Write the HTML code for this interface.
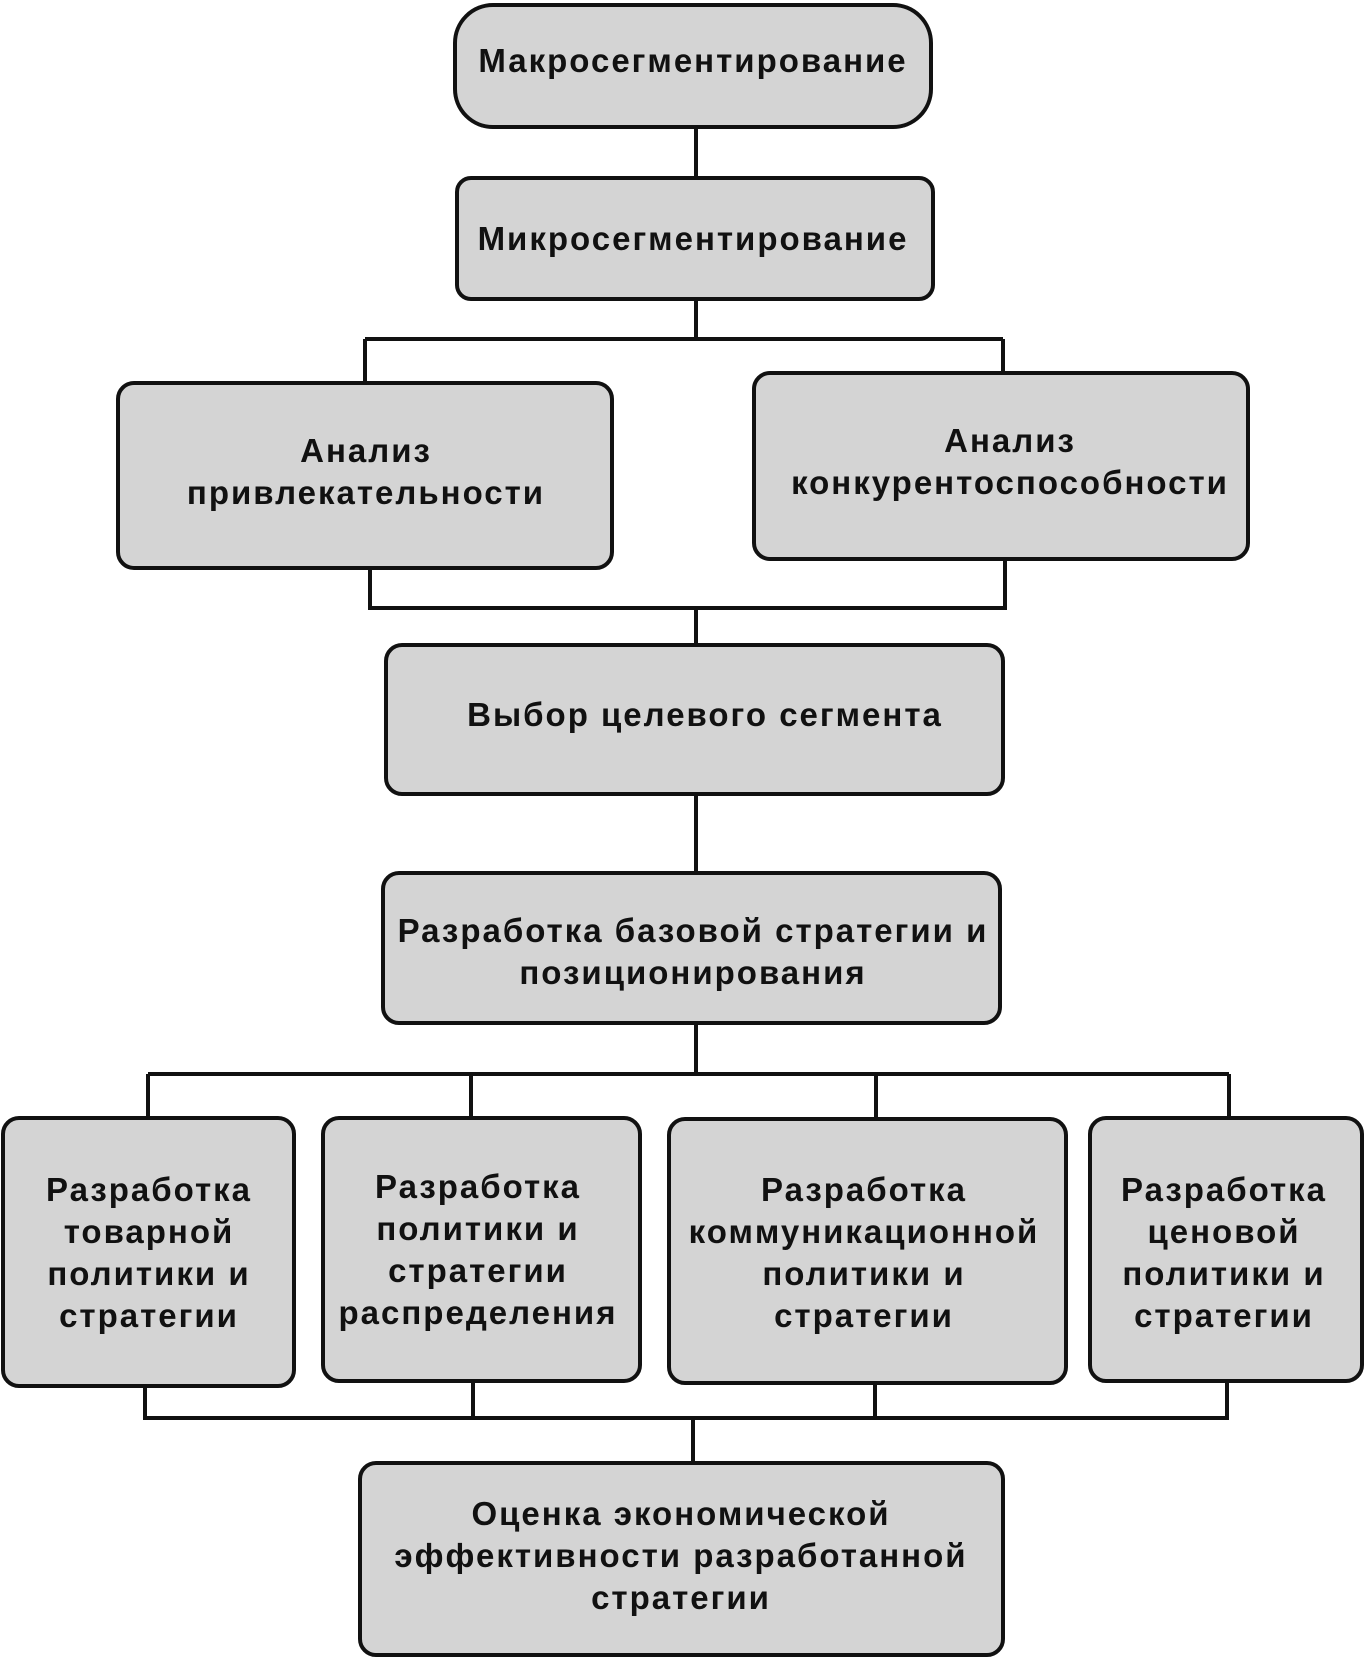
<!DOCTYPE html>
<html><head><meta charset="utf-8"><style>
html,body{margin:0;padding:0;background:#fff;}
svg{display:block;}
text{font-family:"Liberation Sans",sans-serif;font-weight:bold;font-size:33px;letter-spacing:2px;fill:#111;text-anchor:middle;}
.b{fill:#d4d4d4;stroke:#111;stroke-width:4;}
.l{stroke:#111;stroke-width:4;fill:none;}
</style></head><body>
<svg width="1365" height="1658" viewBox="0 0 1365 1658">
<path class="l" d="M696 127V178 M696 299V339 M365 339H1003 M365 339V383 M1003 339V373"/>
<path class="l" d="M370 568V608H1005V559 M696 608V645 M696 794V873 M696 1023V1074 M148 1074H1229 M148 1074V1118 M471 1074V1118 M876 1074V1118 M1229 1074V1118"/>
<path class="l" d="M145 1386V1418H1227V1383 M473 1383V1418 M875 1383V1418 M693 1418V1463"/>
<rect class="b" x="455" y="5" width="476" height="122" rx="38"/>
<text x="693" y="72">Макросегментирование</text>
<rect class="b" x="457" y="178" width="476" height="121" rx="14"/>
<text x="693" y="250">Микросегментирование</text>
<rect class="b" x="118" y="383" width="494" height="185" rx="16"/>
<text x="366" y="462">Анализ</text>
<text x="366" y="504">привлекательности</text>
<rect class="b" x="754" y="373" width="494" height="186" rx="16"/>
<text x="1010" y="452">Анализ</text>
<text x="1010" y="494">конкурентоспособности</text>
<rect class="b" x="386" y="645" width="617" height="149" rx="16"/>
<text x="705" y="726">Выбор целевого сегмента</text>
<rect class="b" x="383" y="873" width="617" height="150" rx="16"/>
<text x="693" y="942">Разработка базовой стратегии и</text>
<text x="693" y="984">позиционирования</text>
<rect class="b" x="3" y="1118" width="291" height="268" rx="16"/>
<text x="149" y="1201">Разработка</text>
<text x="149" y="1243">товарной</text>
<text x="149" y="1285">политики и</text>
<text x="149" y="1327">стратегии</text>
<rect class="b" x="323" y="1118" width="317" height="263" rx="16"/>
<text x="478" y="1198">Разработка</text>
<text x="478" y="1240">политики и</text>
<text x="478" y="1282">стратегии</text>
<text x="478" y="1324">распределения</text>
<rect class="b" x="669" y="1119" width="397" height="264" rx="16"/>
<text x="864" y="1201">Разработка</text>
<text x="864" y="1243">коммуникационной</text>
<text x="864" y="1285">политики и</text>
<text x="864" y="1327">стратегии</text>
<rect class="b" x="1090" y="1118" width="272" height="263" rx="16"/>
<text x="1224" y="1201">Разработка</text>
<text x="1224" y="1243">ценовой</text>
<text x="1224" y="1285">политики и</text>
<text x="1224" y="1327">стратегии</text>
<rect class="b" x="360" y="1463" width="643" height="192" rx="16"/>
<text x="681" y="1525">Оценка экономической</text>
<text x="681" y="1567">эффективности разработанной</text>
<text x="681" y="1609">стратегии</text>
</svg>
</body></html>
